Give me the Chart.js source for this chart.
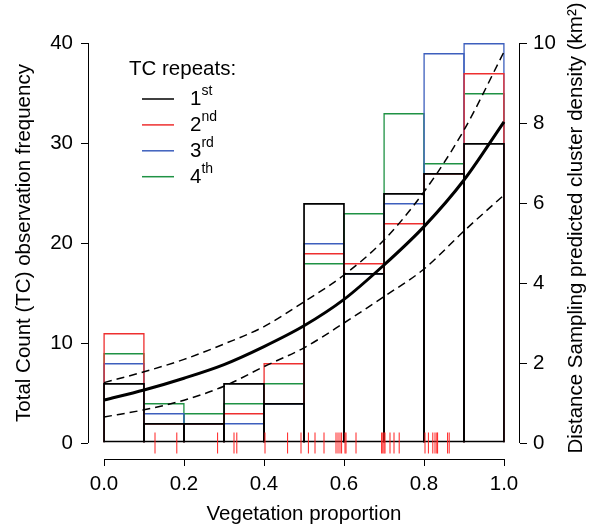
<!DOCTYPE html>
<html>
<head>
<meta charset="utf-8">
<script src="https://cdn.jsdelivr.net/npm/chart.js@4.4.0/dist/chart.umd.min.js"></script>
<style>
  html, body { margin: 0; padding: 0; background: #fff; }
</style>
</head>
<body>
<canvas id="myChart" width="590" height="527"></canvas>
<script>
// histogram bins (centre of each 0.1 wide bin)
let binMids = [0.05, 0.15, 0.25, 0.35, 0.45, 0.55, 0.65, 0.75, 0.85, 0.95]
let tc1 = [6, 2, 2, 6, 4, 24, 17, 25, 27, 30]
let tc2 = [11, 2, 2, 3, 8, 19, 18, 22, 27, 37]
let tc3 = [8, 3, 2, 2, 4, 20, 17, 24, 39, 40]
let tc4 = [9, 4, 3, 4, 6, 18, 23, 33, 28, 35]

// distance sampling prediction (right axis)
let curveX = [0, 0.1, 0.2, 0.3, 0.4, 0.5, 0.6, 0.7, 0.8, 0.9, 1.0]
let fit = [1.075, 1.325, 1.62, 1.96, 2.41, 2.93, 3.59, 4.45, 5.41, 6.575, 8.03]
let fitUpper = [1.51, 1.78, 2.09, 2.475, 2.91, 3.53, 4.2, 5.075, 6.28, 7.825, 9.78]
let fitLower = [0.65, 0.83, 1.07, 1.42, 1.91, 2.38, 3.0, 3.66, 4.35, 5.3, 6.2]

// rug of sampled vegetation proportions
let rugX = [0.1275, 0.182, 0.284, 0.325, 0.332, 0.4025, 0.459, 0.4925, 0.511, 0.5275,
  0.55, 0.58, 0.585, 0.59, 0.594, 0.6025, 0.605, 0.63, 0.694, 0.697, 0.70, 0.7025,
  0.715, 0.725, 0.738, 0.8025, 0.811, 0.822, 0.8275, 0.832, 0.834, 0.859, 0.863]

let xTicks = [0, 0.2, 0.4, 0.6, 0.8, 1.0]
let yTicks = [0, 10, 20, 30, 40]
let y2Ticks = [0, 2, 4, 6, 8, 10]

let repeatLabels = ['1', '2', '3', '4']
let repeatSup = ['st', 'nd', 'rd', 'th']
let colorHex = ['#000000', '#ee2f2f', '#3d5fbd', '#1f9244']

const FONT = "'Liberation Sans', Arial, sans-serif"
Chart.defaults.color = '#000'
Chart.defaults.font.family = FONT

let pts = (xs, ys) => xs.map((x, i) => ({x: x, y: ys[i]}))

let histSet = (vals, i) => ({
  type: 'bar',
  data: pts(binMids, vals),
  backgroundColor: 'rgba(0,0,0,0)',
  borderColor: colorHex[i],
  borderWidth: i === 0 ? 1.8 : 1.5,
  borderSkipped: i === 0 ? false : 'start',
  grouped: false,
  categoryPercentage: 1,
  barPercentage: i === 0 ? 1.045 : 1.0375,
  inflateAmount: 0,
  yAxisID: 'y'
})

let curveSet = (vals, dashed) => ({
  type: 'line',
  data: pts(curveX, vals),
  borderColor: '#000',
  borderWidth: dashed ? 1.5 : 3,
  borderDash: dashed ? [8, 5] : [],
  pointRadius: 0,
  tension: 0.4,
  cubicInterpolationMode: 'monotone',
  fill: false,
  yAxisID: 'y2'
})

// R style axes, legend and right axis title
let rStyle = {
  id: 'rStyle',
  afterDraw(chart) {
    let c = chart.ctx
    let s = chart.scales
    let a = chart.chartArea
    c.save()
    c.strokeStyle = '#000'
    c.lineWidth = 1
    c.beginPath()
    let lx = Math.round(a.left) + 0.5
    c.moveTo(lx, s.y.getPixelForValue(0))
    c.lineTo(lx, s.y.getPixelForValue(40))
    let rx = Math.round(a.right) - 0.5
    c.moveTo(rx, s.y2.getPixelForValue(0))
    c.lineTo(rx, s.y2.getPixelForValue(10))
    let by = Math.round(a.bottom) + 0.5
    c.moveTo(s.x.getPixelForValue(0), by)
    c.lineTo(s.x.getPixelForValue(1), by)
    c.stroke()

    // legend
    c.fillStyle = '#000'
    c.textBaseline = 'alphabetic'
    c.textAlign = 'left'
    c.font = '20.5px ' + FONT
    c.fillText('TC repeats:', 129, 75)
    for (let i = 0; i < 4; i++) {
      let y = 99 + i * 25.9
      c.strokeStyle = colorHex[i]
      c.lineWidth = 1.5
      c.beginPath()
      c.moveTo(142, y)
      c.lineTo(174, y)
      c.stroke()
      c.font = '20.5px ' + FONT
      c.fillText(repeatLabels[i], 190, y + 6)
      let w = c.measureText(repeatLabels[i]).width
      c.font = '14px ' + FONT
      c.fillText(repeatSup[i], 190 + w, y - 4)
    }

    // right title, reading bottom to top
    c.translate(576, 228)
    c.rotate(-Math.PI / 2)
    c.textAlign = 'center'
    c.textBaseline = 'middle'
    c.font = '20.5px ' + FONT
    c.fillText('Distance Sampling predicted cluster density (km²)', 0, 0)
    c.restore()
  }
}

let ctx = document.getElementById('myChart').getContext('2d')
let myChart = new Chart(ctx, {
  type: 'bar',
  data: {
    datasets: [
      {
        type: 'scatter',
        data: rugX.map(x => ({x: x, y: 0})),
        pointStyle: 'line',
        pointRotation: 90,
        pointRadius: 10.5,
        pointBorderWidth: 1,
        pointBorderColor: '#ff2020',
        pointBackgroundColor: '#ff2020',
        showLine: false,
        yAxisID: 'y'
      },
      curveSet(fit, false),
      curveSet(fitUpper, true),
      curveSet(fitLower, true),
      histSet(tc1, 0),
      histSet(tc2, 1),
      histSet(tc3, 2),
      histSet(tc4, 3)
    ]
  },
  options: {
    responsive: false,
    animation: false,
    layout: { padding: { top: 27 } },
    plugins: {
      legend: { display: false },
      tooltip: { enabled: false }
    },
    scales: {
      x: {
        type: 'linear',
        min: -0.04,
        max: 1.04,
        offset: false,
        afterBuildTicks: (scale) => { scale.ticks = xTicks.map(v => ({value: v})) },
        afterFit: (scale) => { scale.height = 68 },
        ticks: {
          autoSkip: false,
          maxRotation: 0,
          padding: 6,
          font: { size: 20.5 },
          callback: (v) => Number(v).toFixed(1)
        },
        grid: { display: true, drawOnChartArea: false, drawTicks: true, tickLength: 7, color: '#000', offset: false },
        border: { display: false },
        title: { display: true, text: 'Vegetation proportion', font: { size: 20.5 }, padding: { top: 0, bottom: 0 } }
      },
      y: {
        position: 'left',
        min: -1.6,
        max: 41.6,
        afterBuildTicks: (scale) => { scale.ticks = yTicks.map(v => ({value: v})) },
        afterFit: (scale) => { scale.width = 88 },
        ticks: { autoSkip: false, padding: 8, font: { size: 20.5 } },
        grid: { display: true, drawOnChartArea: false, drawTicks: true, tickLength: 7, color: '#000' },
        border: { display: false },
        title: { display: true, text: 'Total Count (TC) observation frequency', font: { size: 20.5 }, padding: { top: 12, bottom: 0 } }
      },
      y2: {
        position: 'right',
        min: -0.4,
        max: 10.4,
        afterBuildTicks: (scale) => { scale.ticks = y2Ticks.map(v => ({value: v})) },
        afterFit: (scale) => { scale.width = 70 },
        ticks: { autoSkip: false, padding: 6, font: { size: 20.5 } },
        grid: { display: true, drawOnChartArea: false, drawTicks: true, tickLength: 7, color: '#000' },
        border: { display: false }
      }
    }
  },
  plugins: [rStyle]
})
</script>
</body>
</html>
